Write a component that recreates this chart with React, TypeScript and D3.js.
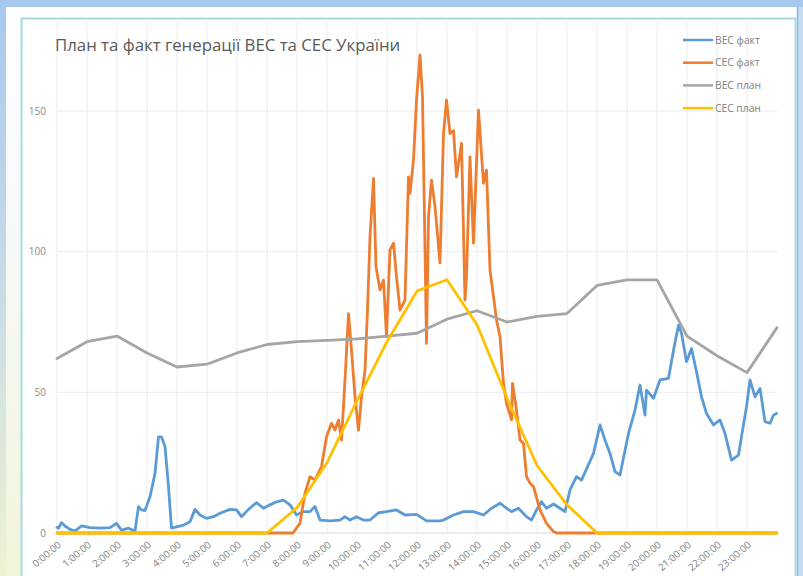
import React from "react";
import * as d3 from "d3";

const title = "План та факт генерації ВЕС та СЕС України";
const seriesNames = ["ВЕС факт", "СЕС факт", "ВЕС план", "СЕС план"];
const seriesColors = ["#5b9bd5", "#ed7d31", "#a5a5a5", "#ffc000"];
const tickLabels = [
  "0:00:00", "1:00:00", "2:00:00", "3:00:00", "4:00:00", "5:00:00", "6:00:00", "7:00:00",
  "8:00:00", "9:00:00", "10:00:00", "11:00:00", "12:00:00", "13:00:00", "14:00:00", "15:00:00",
  "16:00:00", "17:00:00", "18:00:00", "19:00:00", "20:00:00", "21:00:00", "22:00:00", "23:00:00",
];
const yTicks = [0, 50, 100, 150];

// hourly plan points (hour of day)
const planHours = [0, 1, 2, 3, 4, 5, 6, 7, 8, 9, 10, 11, 12, 13, 14, 15, 16, 17, 18, 19, 20, 21, 22, 23, 24];
const windPlan = [62, 68, 70, 64, 59, 60, 64, 67, 68, 68.5, 69, 70, 71, 76, 79, 75, 77, 78, 88, 90, 90, 70, 63, 57, 73];
const solarPlan = [0, 0, 0, 0, 0, 0, 0, 0, 9, 25, 47, 68, 86, 90, 74, 48, 24, 10, 0, 0, 0, 0, 0, 0, 0];

// actual values (minute of day)
const windFactMin = [
  0, 3, 9, 16, 26, 36, 49, 66, 89, 106, 119, 129, 143, 156, 163, 169, 176, 186, 196, 203, 209, 216, 223, 229,
  239, 253, 266, 276, 286, 299, 313, 326, 346, 359, 369, 383, 399, 413, 426, 439, 453, 466, 479, 492, 506, 516,
  526, 546, 566, 576, 586, 599, 613, 626, 643, 659, 679, 696, 719, 739, 766, 773, 793, 813, 833, 853, 869, 886,
  899, 909, 923, 939, 949, 959, 969, 979, 993, 1006, 1016, 1026, 1039, 1049, 1073, 1086, 1096, 1106, 1116, 1126,
  1143, 1156, 1166, 1176, 1179, 1193, 1206, 1223, 1233, 1243, 1249, 1259, 1269, 1279, 1289, 1299, 1313, 1326,
  1336, 1349, 1363, 1369, 1379, 1386, 1396, 1406, 1416, 1426, 1433, 1439,
];
const windFactVal = [
  2, 1.7, 3.7, 2.5, 1.3, 0.7, 2.5, 1.9, 1.7, 1.9, 3.4, 1.0, 1.7, 0.7, 9.4, 8.2, 8, 12.9, 21.2, 34.2, 34.2, 30.7, 16.5, 1.7,
  2.2, 2.8, 4, 8.4, 6.4, 5.2, 5.8, 7, 8.4, 8.2, 5.8, 8.4, 10.8, 8.8, 10, 11.1, 11.7, 10, 6.4, 7.6, 7.6, 9.4,
  4.6, 4.3, 4.6, 5.8, 4.6, 5.8, 4.6, 4.6, 7.2, 7.6, 8.2, 6.4, 6.6, 4.3, 4.3, 4.6, 6.4, 7.6, 7.6, 6.4, 8.8, 10.6,
  8.8, 7.6, 8.8, 5.8, 4.6, 8.2, 11.1, 8.8, 10.3, 8.8, 7.6, 15.3, 20, 18.8, 28.3, 38.4, 33, 28.3, 21.8, 20.6,
  35.4, 43.7, 52.6, 41.9, 50.8, 47.9, 54.4, 55, 65, 73.9, 71, 60.9, 65.6, 57.3, 48.4, 42.5, 38.4, 40.2,
  35.4, 25.9, 27.7, 34.2, 44.9, 54.4, 48.4, 51.4, 39.6, 39, 41.9, 42.5,
];

const solarFactMin = [
  0, 472, 486, 496, 506, 516, 529, 539, 549, 556, 563, 569, 576, 583, 589, 596, 603, 609, 616, 621, 626, 633, 638,
  646, 653, 659, 666, 673, 679, 686, 696, 703, 706, 713, 719, 726, 731, 736, 739, 743, 749, 756, 766, 773, 779,
  786, 793, 799, 809, 816, 819, 826, 833, 843, 853, 859, 866, 873, 879, 886, 893, 899, 909, 911, 919, 926, 933,
  939, 946, 953, 966, 979, 993, 999, 1439,
];
const solarFactVal = [
  0, 0, 3.5, 14.2, 20, 18.8, 23.6, 34.2, 39, 36.6, 40.2, 33, 54.4, 78, 65, 48.4, 36.6, 48.4, 57.9, 79.2, 105.3, 126, 94.6,
  86.4, 89.9, 69.8, 100.6, 103, 91.1, 79.2, 82.8, 126.6, 120.7, 132.6, 153.9, 169.9, 155, 100.6, 67.4, 112.4, 125.4, 116, 96, 142, 153.9,
  142, 143, 126.6, 138.5, 82.8, 91.1, 133.7, 103, 150.3, 124.3, 129, 93.5, 84, 75.7, 69.8, 53.2, 46.1, 40.2, 53.2, 43.7, 33, 31.9,
  20, 17.7, 16.5, 8.2, 3.4, 0.5, 0, 0,
];

const W = 803;
const H = 576;

export default function App() {
  React.useEffect(() => {
    document.body.style.margin = "0";
  }, []);

  const x = d3.scaleLinear().domain([0, 1440]).range([57, 777]);
  const y = d3.scaleLinear().domain([0, 150]).range([533, 111]);

  const line = d3
    .line<[number, number]>()
    .x((d) => x(d[0]))
    .y((d) => y(d[1]));

  const windFact = windFactMin.map((m, i) => [m, windFactVal[i]] as [number, number]);
  const solarFact = solarFactMin.map((m, i) => [m, solarFactVal[i]] as [number, number]);
  const windPl = planHours.map((h, i) => [h * 60, windPlan[i]] as [number, number]);
  const solarPl = planHours.map((h, i) => [h * 60, solarPlan[i]] as [number, number]);
  const paths = [windFact, solarFact, windPl, solarPl];

  const font = "'Open Sans', 'Noto Sans', sans-serif";

  return (
    <svg width={W} height={H} style={{ display: "block", position: "absolute", left: 0, top: 0 }}>
      <defs>
        <linearGradient id="leftEdge" x1="0" y1="0" x2="0" y2="1">
          <stop offset="0" stopColor="#a8c9ee" />
          <stop offset="0.5" stopColor="#c9dbe6" />
          <stop offset="1" stopColor="#eef3d2" />
        </linearGradient>
        <linearGradient id="leftInner" x1="0" y1="0" x2="0" y2="1">
          <stop offset="0" stopColor="#ffffff" />
          <stop offset="0.35" stopColor="#f7f9fb" />
          <stop offset="1" stopColor="#f1f5da" />
        </linearGradient>
      </defs>
      <rect x={0} y={0} width={W} height={H} fill="#a8c9ee" />
      <rect x={6} y={7} width={791} height={H - 7} fill="#ffffff" />
      <rect x={0} y={7} width={6} height={H - 7} fill="url(#leftEdge)" />
      <rect x={6} y={7} width={15} height={H - 7} fill="url(#leftInner)" />
      <rect x={797} y={7} width={6} height={H - 7} fill="#c6dcf3" />
      <line x1={797.5} x2={797.5} y1={7} y2={H} stroke="#8bb8e6" strokeWidth={1.5} />
      <rect x={21.5} y={18.5} width={774} height={620} fill="#ffffff" stroke="#a6dbe0" strokeWidth={2} />

      {/* gridlines */}
      <g stroke="#ececec" strokeWidth={1}>
        {tickLabels.map((t, i) => (
          <line key={t} x1={x(i * 60)} x2={x(i * 60)} y1={22} y2={533} />
        ))}
        {yTicks.filter((v) => v > 0).map((v) => (
          <line key={v} x1={x(0)} x2={x(1440)} y1={y(v)} y2={y(v)} />
        ))}
        <line x1={x(0)} x2={x(1440)} y1={y(0)} y2={y(0)} stroke="#d9d9d9" />
      </g>

      {/* y labels */}
      <g fontFamily={font} fontSize={10} fill="#8c8c8c" textAnchor="end">
        {yTicks.map((v) => (
          <text key={v} x={46} y={y(v) + 3.5}>
            {v}
          </text>
        ))}
      </g>

      {/* x labels */}
      <g fontFamily={font} fontSize={10} fill="#7f7f7f" textAnchor="end">
        {tickLabels.map((t, i) => (
          <text key={t} transform={`translate(${x(i * 60) + 5},${546}) rotate(-40)`}>
            {t}
          </text>
        ))}
      </g>

      {/* series */}
      {paths.map((p, i) => (
        <path
          key={i}
          d={line(p) || ""}
          fill="none"
          stroke={seriesColors[i]}
          strokeWidth={2.8}
          strokeLinejoin="round"
          strokeLinecap="round"
        />
      ))}

      {/* title */}
      <text x={55} y={51} fontFamily={font} fontSize={16.8} fill="#595959">
        {title}
      </text>

      {/* legend */}
      <g fontFamily={font} fontSize={10.3} fill="#7f7f7f">
        {seriesNames.map((n, i) => (
          <g key={n} transform={`translate(683,${40 + i * 22.7})`}>
            <line x1={0} x2={30} y1={0} y2={0} stroke={seriesColors[i]} strokeWidth={2.5} />
            <text x={32} y={3.5}>
              {n}
            </text>
          </g>
        ))}
      </g>
    </svg>
  );
}
